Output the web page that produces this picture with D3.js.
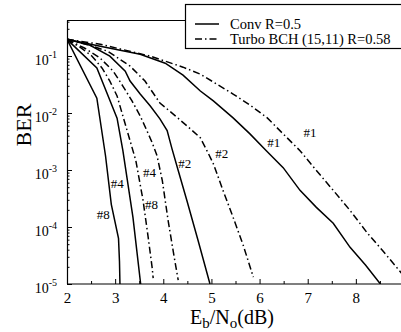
<!DOCTYPE html>
<html>
<head>
<meta charset="utf-8">
<script src="https://cdn.jsdelivr.net/npm/d3@7"></script>
<style>
  body { margin: 0; background: #fff; }
  svg { display: block; font-family: "Liberation Serif", "Times New Roman", serif; }
</style>
</head>
<body>
<svg id="chart" width="401" height="332"></svg>
<script>
// Curves: [Eb/No (dB), BER]
const conv8 = [[2, 0.196], [2.62, 0.0182], [2.8, 1.78e-3], [2.92, 2.5e-4], [3.07, 6.3e-5], [3.09, 2.5e-5], [3.1, 1e-5]];
const conv4 = [[2, 0.196], [2.62, 0.0617], [3.04, 8.1e-3], [3.16, 2.2e-3], [3.37, 1.48e-4], [3.53, 1e-5]];
const conv2 = [[2, 0.196], [2.48, 0.154], [2.89, 0.0993], [3.21, 0.0543], [3.31, 0.0363], [3.52, 0.0215],
  [3.73, 0.0133], [3.93, 7.9e-3], [4.08, 4.9e-3], [4.18, 2.37e-3], [4.31, 9.8e-4], [4.49, 2.92e-4],
  [4.72, 5.9e-5], [4.97, 1e-5]];
const conv1 = [[2, 0.196], [2.69, 0.148], [3.52, 0.107], [4.04, 0.0748], [4.41, 0.0462], [4.77, 0.0243],
  [5.04, 0.0163], [5.45, 8.2e-3], [5.8, 4.3e-3], [6.14, 2.18e-3], [6.49, 1.1e-3], [6.84, 4.4e-4],
  [7.18, 2.21e-4], [7.53, 1.16e-4], [7.88, 4.4e-5], [8.2, 2.15e-5], [8.51, 1e-5]];

const turbo8 = [[2, 0.196], [2.27, 0.143], [2.52, 0.0993], [2.73, 0.0612], [2.89, 0.0363], [3.04, 0.0199],
  [3.16, 8.9e-3], [3.31, 3.26e-3], [3.43, 1.46e-3], [3.58, 2.92e-4], [3.68, 7.2e-5], [3.77, 1.9e-5], [3.79, 1.27e-5]];
const turbo4 = [[2, 0.196], [2.37, 0.137], [2.69, 0.0916], [2.96, 0.0543], [3.16, 0.0297], [3.35, 0.0163],
  [3.52, 8.9e-3], [3.66, 4.9e-3], [3.77, 3.0e-3], [3.87, 1.78e-3], [3.98, 6.5e-4], [4.1, 1.31e-4],
  [4.22, 3.2e-5], [4.31, 1.17e-5]];
const turbo2 = [[2, 0.196], [2.48, 0.154], [2.85, 0.121], [3.31, 0.0664], [3.62, 0.0363], [3.93, 0.015],
  [4.25, 8.9e-3], [4.56, 5.3e-3], [4.77, 3.67e-3], [4.93, 2.0e-3], [5.04, 1.29e-3], [5.24, 4.4e-4],
  [5.45, 1.48e-4], [5.66, 4.8e-5], [5.87, 1.32e-5]];
const turbo1 = [[2, 0.196], [2.69, 0.161], [3.73, 0.0993], [4.41, 0.0637], [4.77, 0.0481], [5.45, 0.0215],
  [5.8, 0.0138], [6.16, 8.2e-3], [6.49, 4.3e-3], [6.84, 2.18e-3], [7.18, 9.8e-4], [7.53, 4.4e-4],
  [7.88, 1.95e-4], [8.24, 7.8e-5], [8.55, 3.9e-5], [8.86, 1.9e-5], [9.0, 1.38e-5]];

// Curve labels: [text, Eb/No, BER]
const curveLabels = [
  ["#8", 2.62, 1.4e-4], ["#4", 2.91, 4.9e-4], ["#8", 3.62, 2.1e-4], ["#4", 3.58, 7.4e-4],
  ["#2", 4.31, 1.1e-3], ["#2", 5.08, 1.64e-3], ["#1", 6.16, 2.56e-3], ["#1", 6.91, 3.83e-3]
];

const xTicks = [2, 3, 4, 5, 6, 7, 8];
const yTicks = [1e-5, 1e-4, 1e-3, 1e-2, 1e-1];
const legendLabels = ["Conv R=0.5", "Turbo BCH (15,11) R=0.58"];

const margin = { top: 20.5, left: 67, bottom: 284, right: 404 };
const dashDot = "7,3,1.5,3";

const svg = d3.select("#chart");

const x = d3.scaleLinear().domain([2, 9]).range([margin.left, margin.right]);
const y = d3.scaleLog().domain([1e-5, Math.pow(10, (margin.bottom - margin.top) / 57 - 5)])
  .range([margin.bottom, margin.top]);

svg.append("defs").append("clipPath").attr("id", "plot")
  .append("rect")
  .attr("x", margin.left).attr("y", margin.top)
  .attr("width", margin.right - margin.left).attr("height", margin.bottom - margin.top);

// minor ticks
const xMinor = d3.range(2.5, 9, 1);
const yMinor = [];
yTicks.forEach(t => d3.range(2, 10).forEach(k => { if (t * k < y.domain()[1]) yMinor.push(t * k); }));

svg.append("g")
  .attr("transform", `translate(0,${margin.bottom})`)
  .call(d3.axisBottom(x).tickValues(xMinor).tickSize(-3).tickFormat(""))
  .call(g => g.select(".domain").remove());
svg.append("g")
  .attr("transform", `translate(${margin.left},0)`)
  .call(d3.axisLeft(y).tickValues(yMinor).tickSize(-2.5).tickFormat(""))
  .call(g => g.select(".domain").remove());

// x axis
svg.append("g")
  .attr("transform", `translate(0,${margin.bottom})`)
  .call(d3.axisBottom(x).tickValues(xTicks).tickSizeInner(-5).tickSizeOuter(0).tickPadding(8).tickFormat(d3.format("d")))
  .call(g => g.select(".domain").remove())
  .call(g => g.selectAll(".tick text")
    .attr("font-family", "Liberation Serif").attr("font-size", 15).attr("fill", "#000"));

// y axis
svg.append("g")
  .attr("transform", `translate(${margin.left},0)`)
  .call(d3.axisLeft(y).tickValues(yTicks).tickSizeInner(-5).tickSizeOuter(0))
  .call(g => g.select(".domain").remove())
  .call(g => g.selectAll(".tick text").each(function(d) {
    const t = d3.select(this)
      .attr("x", -10).attr("dy", null).attr("y", 8)
      .attr("text-anchor", "end")
      .attr("font-family", "Liberation Serif").attr("font-size", 14).attr("fill", "#000")
      .text("10");
    t.append("tspan").attr("dy", -7).attr("font-size", 10).text(Math.round(Math.log10(d)));
  }));

// frame (left, bottom, top)
svg.append("path")
  .attr("d", `M${margin.left},${margin.top}H401M${margin.left + 0.5},${margin.top}V${margin.bottom}M${margin.left},${margin.bottom}H401`)
  .attr("fill", "none").attr("stroke", "#000").attr("stroke-width", 1.2);

// curves
const line = d3.line().x(d => x(d[0])).y(d => y(d[1]));
const curves = [
  [conv8, null], [conv4, null], [conv2, null], [conv1, null],
  [turbo8, dashDot], [turbo4, dashDot], [turbo2, dashDot], [turbo1, dashDot]
];
svg.append("g").attr("clip-path", "url(#plot)")
  .selectAll("path")
  .data(curves)
  .join("path")
  .attr("d", d => line(d[0]))
  .attr("fill", "none")
  .attr("stroke", "#000")
  .attr("stroke-width", 1.5)
  .attr("stroke-dasharray", d => d[1]);

// curve labels
svg.append("g")
  .selectAll("text")
  .data(curveLabels)
  .join("text")
  .attr("x", d => x(d[1]))
  .attr("y", d => y(d[2]))
  .attr("font-size", 13)
  .text(d => d[0]);

// axis titles
svg.append("text")
  .attr("transform", `translate(31,125) rotate(-90)`)
  .attr("text-anchor", "middle")
  .attr("font-size", 22)
  .text("BER");

const xt = svg.append("text")
  .attr("x", 232).attr("y", 324)
  .attr("text-anchor", "middle")
  .attr("font-size", 20);
xt.append("tspan").text("E");
xt.append("tspan").attr("font-size", 15).attr("dy", 4).text("b");
xt.append("tspan").attr("dy", -4).text("/N");
xt.append("tspan").attr("font-size", 15).attr("dy", 4).text("o");
xt.append("tspan").attr("dy", -4).text("(dB)");

// legend
const lg = svg.append("g");
lg.append("rect")
  .attr("x", 185.5).attr("y", 4.5).attr("width", 220).attr("height", 44)
  .attr("fill", "#fff").attr("stroke", "#000").attr("stroke-width", 1.2);
legendLabels.forEach((label, i) => {
  const ly = 24 + i * 15;
  lg.append("line")
    .attr("x1", 195).attr("x2", 219).attr("y1", ly).attr("y2", ly)
    .attr("stroke", "#000").attr("stroke-width", 1.5)
    .attr("stroke-dasharray", i === 0 ? null : dashDot);
  lg.append("text")
    .attr("x", 230).attr("y", ly + 5)
    .attr("font-size", 14.5)
    .text(label);
});
</script>
</body>
</html>
